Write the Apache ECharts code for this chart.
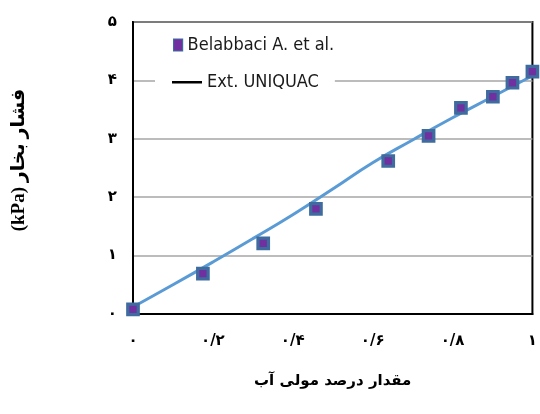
<!DOCTYPE html>
<html><head><meta charset="utf-8">
<script src="https://cdn.jsdelivr.net/npm/echarts@6/dist/echarts.min.js"></script>
<style>html,body{margin:0;padding:0;background:#fff}#c{width:540px;height:414px}</style>
</head><body><div id="c"></div>
<script>
const expX = [0, 0.175, 0.326, 0.458, 0.639, 0.740, 0.821, 0.901, 0.950, 1.0];
const expY = [0.08, 0.69, 1.21, 1.80, 2.62, 3.05, 3.53, 3.72, 3.96, 4.15];
const modelX = [0, 0.1, 0.2, 0.3, 0.4, 0.5, 0.6, 0.7, 0.8, 0.9, 1.0];
const modelY = [0.12, 0.50, 0.89, 1.29, 1.70, 2.14, 2.59, 2.98, 3.36, 3.72, 4.08];
const xTickLabels = ['۰', '۰/۲', '۰/۴', '۰/۶', '۰/۸', '۱'];
const yTickLabels = ['۰', '۱', '۲', '۳', '۴', '۵'];
const seriesNames = ['Belabbaci A. et al.', 'Ext. UNIQUAC'];
const xTitle = 'مقدار درصد مولی آب';
const yTitle = '(kPa) فشار بخار';

const legendFont = '"Liberation Sans Narrow", "DejaVu Sans Condensed", Roboto, sans-serif';
const chart = echarts.init(document.getElementById('c'), null, {renderer: 'canvas'});
const labelFont = {fontFamily: 'DejaVu Sans', fontWeight: 'bold', fontSize: 15, color: '#000'};
chart.setOption({
  animation: false,
  backgroundColor: '#fff',
  grid: {left: 133, right: 4, top: 22, bottom: 100, show: true, borderColor: '#000', borderWidth: 2, backgroundColor: 'transparent'},
  legend: [
    {
      data: [{name: seriesNames[0], itemStyle: {borderWidth: 1.2}}],
      left: 173, top: 36, padding: 0, itemWidth: 9, itemHeight: 12,
      textStyle: {fontFamily: legendFont, fontSize: 18, color: '#1a1a1a'}
    },
    {
      data: [{name: seriesNames[1], icon: 'path://M0,0 M0,6 L30,6 L30,8.5 L0,8.5 Z M30,14', itemStyle: {color: '#000', borderWidth: 0}}],
      left: 155, top: 68, padding: [5, 16, 5, 17], itemWidth: 30, itemHeight: 14,
      backgroundColor: '#fff',
      textStyle: {fontFamily: legendFont, fontSize: 18, color: '#1a1a1a'}
    }
  ],
  xAxis: {
    type: 'value', min: 0, max: 1, interval: 0.2,
    name: xTitle, nameLocation: 'middle', nameGap: 60,
    nameTextStyle: {fontFamily: 'DejaVu Sans', fontWeight: 'bold', fontSize: 15, color: '#000'},
    axisLine: {show: true, lineStyle: {color: '#000', width: 2}},
    axisTick: {show: false},
    splitLine: {show: false},
    axisLabel: Object.assign({margin: 20, formatter: (v) => xTickLabels[Math.round(v / 0.2)]}, labelFont)
  },
  yAxis: {
    type: 'value', min: 0, max: 5, interval: 1,
    name: yTitle, nameLocation: 'middle', nameGap: 104, nameRotate: 90,
    nameTextStyle: {fontFamily: 'Liberation Serif, DejaVu Sans', fontWeight: 'bold', fontSize: 19, color: '#000', padding: [0, 0, 0, 16]},
    axisLine: {show: true, lineStyle: {color: '#000', width: 2}},
    axisTick: {show: false},
    splitLine: {show: true, lineStyle: {color: '#a6a6a6', width: 1.5}},
    axisLabel: Object.assign({margin: 16, formatter: (v) => yTickLabels[Math.round(v)]}, labelFont)
  },
  series: [
    {
      name: seriesNames[0], type: 'scatter', z: 5, clip: false,
      symbol: 'rect', symbolSize: 10.5,
      itemStyle: {color: '#7030a0', borderColor: '#3f6c9f', borderWidth: 3.2, opacity: 1},
      data: expX.map((x, i) => [x, expY[i]])
    },
    {
      name: seriesNames[1], type: 'line', z: 3, smooth: true, symbol: 'none',
      lineStyle: {color: '#5b9bd5', width: 3},
      itemStyle: {color: '#000'},
      data: modelX.map((x, i) => [x, modelY[i]])
    }
  ]
});
</script></body></html>
